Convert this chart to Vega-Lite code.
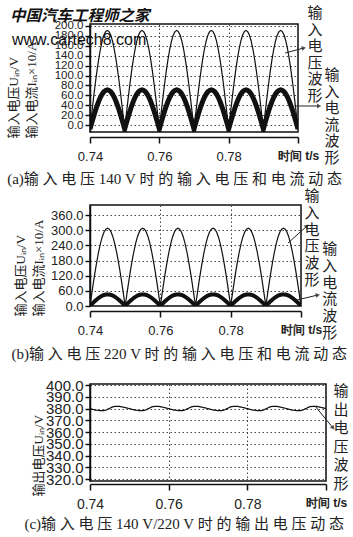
{
  "$schema": "https://vega.github.io/schema/vega-lite/v6.json",
  "background": "white",
  "padding": {"left": 6, "top": 5, "right": 0, "bottom": 0},
  "columns": 1,
  "align": "none",
  "spacing": 14,
  "data": {"values": [
    {"t":0.74,"va":-8,"ia":-8,"vb":0,"ib":0,"vc":380.1},
    {"t":0.7405,"va":23.1,"ia":4.4,"vb":48.2,"ib":7.2,"vc":379.6},
    {"t":0.741,"va":53.5,"ia":16.4,"vb":95.2,"ib":14.2,"vc":379.2},
    {"t":0.7415,"va":82.3,"ia":27.9,"vb":139.8,"ib":20.9,"vc":378.8},
    {"t":0.742,"va":109,"ia":38.4,"vb":181,"ib":27,"vc":378.6},
    {"t":0.7425,"va":132.7,"ia":47.9,"vb":217.8,"ib":32.5,"vc":378.4},
    {"t":0.743,"va":153,"ia":55.9,"vb":249.2,"ib":37.2,"vc":378.3},
    {"t":0.7435,"va":169.3,"ia":62.4,"vb":274.4,"ib":41,"vc":378.4},
    {"t":0.744,"va":181.3,"ia":67.1,"vb":292.9,"ib":43.8,"vc":378.8},
    {"t":0.7445,"va":188.6,"ia":70,"vb":304.2,"ib":45.4,"vc":379.5},
    {"t":0.745,"va":191,"ia":71,"vb":308,"ib":46,"vc":380.3},
    {"t":0.7455,"va":188.6,"ia":70,"vb":304.2,"ib":45.4,"vc":381.1},
    {"t":0.746,"va":181.3,"ia":67.1,"vb":292.9,"ib":43.8,"vc":381.7},
    {"t":0.7465,"va":169.3,"ia":62.4,"vb":274.4,"ib":41,"vc":382},
    {"t":0.747,"va":153,"ia":55.9,"vb":249.2,"ib":37.2,"vc":382},
    {"t":0.7475,"va":132.7,"ia":47.9,"vb":217.8,"ib":32.5,"vc":381.9},
    {"t":0.748,"va":109,"ia":38.4,"vb":181,"ib":27,"vc":381.6},
    {"t":0.7485,"va":82.3,"ia":27.9,"vb":139.8,"ib":20.9,"vc":381.3},
    {"t":0.749,"va":53.5,"ia":16.4,"vb":95.2,"ib":14.2,"vc":380.9},
    {"t":0.7495,"va":23.1,"ia":4.4,"vb":48.2,"ib":7.2,"vc":380.5},
    {"t":0.75,"va":-8,"ia":-8,"vb":0,"ib":0,"vc":380.1},
    {"t":0.7505,"va":23.1,"ia":4.4,"vb":48.2,"ib":7.2,"vc":379.6},
    {"t":0.751,"va":53.5,"ia":16.4,"vb":95.2,"ib":14.2,"vc":379.2},
    {"t":0.7515,"va":82.3,"ia":27.9,"vb":139.8,"ib":20.9,"vc":378.8},
    {"t":0.752,"va":109,"ia":38.4,"vb":181,"ib":27,"vc":378.6},
    {"t":0.7525,"va":132.7,"ia":47.9,"vb":217.8,"ib":32.5,"vc":378.4},
    {"t":0.753,"va":153,"ia":55.9,"vb":249.2,"ib":37.2,"vc":378.3},
    {"t":0.7535,"va":169.3,"ia":62.4,"vb":274.4,"ib":41,"vc":378.4},
    {"t":0.754,"va":181.3,"ia":67.1,"vb":292.9,"ib":43.8,"vc":378.8},
    {"t":0.7545,"va":188.6,"ia":70,"vb":304.2,"ib":45.4,"vc":379.5},
    {"t":0.755,"va":191,"ia":71,"vb":308,"ib":46,"vc":380.3},
    {"t":0.7555,"va":188.6,"ia":70,"vb":304.2,"ib":45.4,"vc":381.1},
    {"t":0.756,"va":181.3,"ia":67.1,"vb":292.9,"ib":43.8,"vc":381.7},
    {"t":0.7565,"va":169.3,"ia":62.4,"vb":274.4,"ib":41,"vc":382},
    {"t":0.757,"va":153,"ia":55.9,"vb":249.2,"ib":37.2,"vc":382},
    {"t":0.7575,"va":132.7,"ia":47.9,"vb":217.8,"ib":32.5,"vc":381.9},
    {"t":0.758,"va":109,"ia":38.4,"vb":181,"ib":27,"vc":381.6},
    {"t":0.7585,"va":82.3,"ia":27.9,"vb":139.8,"ib":20.9,"vc":381.3},
    {"t":0.759,"va":53.5,"ia":16.4,"vb":95.2,"ib":14.2,"vc":380.9},
    {"t":0.7595,"va":23.1,"ia":4.4,"vb":48.2,"ib":7.2,"vc":380.5},
    {"t":0.76,"va":-8,"ia":-8,"vb":0,"ib":0,"vc":380.1},
    {"t":0.7605,"va":23.1,"ia":4.4,"vb":48.2,"ib":7.2,"vc":379.6},
    {"t":0.761,"va":53.5,"ia":16.4,"vb":95.2,"ib":14.2,"vc":379.2},
    {"t":0.7615,"va":82.3,"ia":27.9,"vb":139.8,"ib":20.9,"vc":378.8},
    {"t":0.762,"va":109,"ia":38.4,"vb":181,"ib":27,"vc":378.6},
    {"t":0.7625,"va":132.7,"ia":47.9,"vb":217.8,"ib":32.5,"vc":378.4},
    {"t":0.763,"va":153,"ia":55.9,"vb":249.2,"ib":37.2,"vc":378.3},
    {"t":0.7635,"va":169.3,"ia":62.4,"vb":274.4,"ib":41,"vc":378.4},
    {"t":0.764,"va":181.3,"ia":67.1,"vb":292.9,"ib":43.8,"vc":378.8},
    {"t":0.7645,"va":188.6,"ia":70,"vb":304.2,"ib":45.4,"vc":379.5},
    {"t":0.765,"va":191,"ia":71,"vb":308,"ib":46,"vc":380.3},
    {"t":0.7655,"va":188.6,"ia":70,"vb":304.2,"ib":45.4,"vc":381.1},
    {"t":0.766,"va":181.3,"ia":67.1,"vb":292.9,"ib":43.8,"vc":381.7},
    {"t":0.7665,"va":169.3,"ia":62.4,"vb":274.4,"ib":41,"vc":382},
    {"t":0.767,"va":153,"ia":55.9,"vb":249.2,"ib":37.2,"vc":382},
    {"t":0.7675,"va":132.7,"ia":47.9,"vb":217.8,"ib":32.5,"vc":381.9},
    {"t":0.768,"va":109,"ia":38.4,"vb":181,"ib":27,"vc":381.6},
    {"t":0.7685,"va":82.3,"ia":27.9,"vb":139.8,"ib":20.9,"vc":381.3},
    {"t":0.769,"va":53.5,"ia":16.4,"vb":95.2,"ib":14.2,"vc":380.9},
    {"t":0.7695,"va":23.1,"ia":4.4,"vb":48.2,"ib":7.2,"vc":380.5},
    {"t":0.77,"va":-8,"ia":-8,"vb":0,"ib":0,"vc":380.1},
    {"t":0.7705,"va":23.1,"ia":4.4,"vb":48.2,"ib":7.2,"vc":379.6},
    {"t":0.771,"va":53.5,"ia":16.4,"vb":95.2,"ib":14.2,"vc":379.2},
    {"t":0.7715,"va":82.3,"ia":27.9,"vb":139.8,"ib":20.9,"vc":378.8},
    {"t":0.772,"va":109,"ia":38.4,"vb":181,"ib":27,"vc":378.6},
    {"t":0.7725,"va":132.7,"ia":47.9,"vb":217.8,"ib":32.5,"vc":378.4},
    {"t":0.773,"va":153,"ia":55.9,"vb":249.2,"ib":37.2,"vc":378.3},
    {"t":0.7735,"va":169.3,"ia":62.4,"vb":274.4,"ib":41,"vc":378.4},
    {"t":0.774,"va":181.3,"ia":67.1,"vb":292.9,"ib":43.8,"vc":378.8},
    {"t":0.7745,"va":188.6,"ia":70,"vb":304.2,"ib":45.4,"vc":379.5},
    {"t":0.775,"va":191,"ia":71,"vb":308,"ib":46,"vc":380.3},
    {"t":0.7755,"va":188.6,"ia":70,"vb":304.2,"ib":45.4,"vc":381.1},
    {"t":0.776,"va":181.3,"ia":67.1,"vb":292.9,"ib":43.8,"vc":381.7},
    {"t":0.7765,"va":169.3,"ia":62.4,"vb":274.4,"ib":41,"vc":382},
    {"t":0.777,"va":153,"ia":55.9,"vb":249.2,"ib":37.2,"vc":382},
    {"t":0.7775,"va":132.7,"ia":47.9,"vb":217.8,"ib":32.5,"vc":381.9},
    {"t":0.778,"va":109,"ia":38.4,"vb":181,"ib":27,"vc":381.6},
    {"t":0.7785,"va":82.3,"ia":27.9,"vb":139.8,"ib":20.9,"vc":381.3},
    {"t":0.779,"va":53.5,"ia":16.4,"vb":95.2,"ib":14.2,"vc":380.9},
    {"t":0.7795,"va":23.1,"ia":4.4,"vb":48.2,"ib":7.2,"vc":380.5},
    {"t":0.78,"va":-8,"ia":-8,"vb":0,"ib":0,"vc":380.1},
    {"t":0.7805,"va":23.1,"ia":4.4,"vb":48.2,"ib":7.2,"vc":379.6},
    {"t":0.781,"va":53.5,"ia":16.4,"vb":95.2,"ib":14.2,"vc":379.2},
    {"t":0.7815,"va":82.3,"ia":27.9,"vb":139.8,"ib":20.9,"vc":378.8},
    {"t":0.782,"va":109,"ia":38.4,"vb":181,"ib":27,"vc":378.6},
    {"t":0.7825,"va":132.7,"ia":47.9,"vb":217.8,"ib":32.5,"vc":378.4},
    {"t":0.783,"va":153,"ia":55.9,"vb":249.2,"ib":37.2,"vc":378.3},
    {"t":0.7835,"va":169.3,"ia":62.4,"vb":274.4,"ib":41,"vc":378.4},
    {"t":0.784,"va":181.3,"ia":67.1,"vb":292.9,"ib":43.8,"vc":378.8},
    {"t":0.7845,"va":188.6,"ia":70,"vb":304.2,"ib":45.4,"vc":379.5},
    {"t":0.785,"va":191,"ia":71,"vb":308,"ib":46,"vc":380.3},
    {"t":0.7855,"va":188.6,"ia":70,"vb":304.2,"ib":45.4,"vc":381.1},
    {"t":0.786,"va":181.3,"ia":67.1,"vb":292.9,"ib":43.8,"vc":381.7},
    {"t":0.7865,"va":169.3,"ia":62.4,"vb":274.4,"ib":41,"vc":382},
    {"t":0.787,"va":153,"ia":55.9,"vb":249.2,"ib":37.2,"vc":382},
    {"t":0.7875,"va":132.7,"ia":47.9,"vb":217.8,"ib":32.5,"vc":381.9},
    {"t":0.788,"va":109,"ia":38.4,"vb":181,"ib":27,"vc":381.6},
    {"t":0.7885,"va":82.3,"ia":27.9,"vb":139.8,"ib":20.9,"vc":381.3},
    {"t":0.789,"va":53.5,"ia":16.4,"vb":95.2,"ib":14.2,"vc":380.9},
    {"t":0.7895,"va":23.1,"ia":4.4,"vb":48.2,"ib":7.2,"vc":380.5},
    {"t":0.79,"va":-8,"ia":-8,"vb":0,"ib":0,"vc":380.1},
    {"t":0.7905,"va":23.1,"ia":4.4,"vb":48.2,"ib":7.2,"vc":379.6},
    {"t":0.791,"va":53.5,"ia":16.4,"vb":95.2,"ib":14.2,"vc":379.2},
    {"t":0.7915,"va":82.3,"ia":27.9,"vb":139.8,"ib":20.9,"vc":378.8},
    {"t":0.792,"va":109,"ia":38.4,"vb":181,"ib":27,"vc":378.6},
    {"t":0.7925,"va":132.7,"ia":47.9,"vb":217.8,"ib":32.5,"vc":378.4},
    {"t":0.793,"va":153,"ia":55.9,"vb":249.2,"ib":37.2,"vc":378.3},
    {"t":0.7935,"va":169.3,"ia":62.4,"vb":274.4,"ib":41,"vc":378.4},
    {"t":0.794,"va":181.3,"ia":67.1,"vb":292.9,"ib":43.8,"vc":378.8},
    {"t":0.7945,"va":188.6,"ia":70,"vb":304.2,"ib":45.4,"vc":379.5},
    {"t":0.795,"va":191,"ia":71,"vb":308,"ib":46,"vc":380.3},
    {"t":0.7955,"va":188.6,"ia":70,"vb":304.2,"ib":45.4,"vc":381.1},
    {"t":0.796,"va":181.3,"ia":67.1,"vb":292.9,"ib":43.8,"vc":381.7},
    {"t":0.7965,"va":169.3,"ia":62.4,"vb":274.4,"ib":41,"vc":382},
    {"t":0.797,"va":153,"ia":55.9,"vb":249.2,"ib":37.2,"vc":382},
    {"t":0.7975,"va":132.7,"ia":47.9,"vb":217.8,"ib":32.5,"vc":381.9},
    {"t":0.798,"va":109,"ia":38.4,"vb":181,"ib":27,"vc":381.6},
    {"t":0.7985,"va":82.3,"ia":27.9,"vb":139.8,"ib":20.9,"vc":381.3},
    {"t":0.799,"va":53.5,"ia":16.4,"vb":95.2,"ib":14.2,"vc":380.9},
    {"t":0.7995,"va":23.1,"ia":4.4,"vb":48.2,"ib":7.2,"vc":380.5},
    {"t":0.8,"va":-8,"ia":-8,"vb":0,"ib":0,"vc":380.1}
  ]},
  "concat": [
    {
      "columns": 1,
      "align": "none",
      "spacing": 0,
      "concat": [
        {
          "width": 208, "height": 108,
          "title": {"text": "(a)输 入 电 压 140 V 时 的 输 入 电 压 和 电 流 动 态"},
          "layer": [
            {"mark": {"type": "line", "color": "#111", "strokeWidth": 5, "clip": true},
             "encoding": {
               "x": {"field": "t", "type": "quantitative", "scale": {"domain": [0.74, 0.8], "nice": false, "zero": false},
                     "axis": {"values": [0.74, 0.76, 0.78, 0.8], "tickCount": 12, "title": null, "offset": 5, "grid": true, "labelFlush": false, "labelOverlap": false,
                              "labelExpr": "datum.value > 0.799 ? '时间 t/s   ' : format(datum.value, '.2f')",
                              "labelFontWeight": {"condition": {"test": "datum.value > 0.799", "value": "bold"}, "value": "normal"},
                              "labelFontSize": {"condition": {"test": "datum.value > 0.799", "value": 12}, "value": 13}}},
               "y": {"field": "ia", "type": "quantitative", "scale": {"domain": [-14, 204], "nice": false, "zero": false},
                     "axis": {"values": [0, 20, 40, 60, 80, 100, 120, 140, 160, 180, 200], "tickCount": 20, "format": ".1f", "labelFontSize": 11.5, "grid": true, "labelOverlap": false,
                              "title": ["输入电压Uᵢₙ/V", "输入电流Iᵢₙ×10/A"], "titleAnchor": "start", "titleY": 114, "titlePadding": 16}}}},
            {"mark": {"type": "line", "color": "#111", "strokeWidth": 1.2, "clip": true},
             "encoding": {"x": {"field": "t", "type": "quantitative"}, "y": {"field": "va", "type": "quantitative"}}},
            {"data": {"values": [
               {"t": 0.8049, "v": 226.2, "label": "输\n入\n电\n压\n波\n形"},
               {"t": 0.8098, "v": 101.1, "label": "输\n入\n电\n流\n波\n形"}]},
             "mark": {"type": "text", "lineBreak": "\n", "lineHeight": 16.6, "align": "center", "baseline": "middle", "clip": false},
             "encoding": {"x": {"field": "t", "type": "quantitative"}, "y": {"field": "v", "type": "quantitative"}, "text": {"field": "label"}}},
            {"data": {"values": [
               {"t": 0.7963, "v": 145.5, "t2": 0.8017, "v2": 155.6},
               {"t": 0.7991, "v": 38.5, "t2": 0.8061, "v2": 38.5}]},
             "mark": {"type": "rule", "color": "#222", "strokeWidth": 1, "clip": false},
             "encoding": {"x": {"field": "t", "type": "quantitative"}, "y": {"field": "v", "type": "quantitative"}, "x2": {"field": "t2"}, "y2": {"field": "v2"}}},
            {"data": {"values": [{"t": 0.8017, "v": 155.6}]},
             "mark": {"type": "point", "shape": "triangle-right", "filled": true, "color": "#222", "size": 26, "angle": 345, "clip": false},
             "encoding": {"x": {"field": "t", "type": "quantitative"}, "y": {"field": "v", "type": "quantitative"}}},
            {"data": {"values": [{"t": 0.8061, "v": 38.5}]},
             "mark": {"type": "point", "shape": "triangle-right", "filled": true, "color": "#222", "size": 26, "angle": 0, "clip": false},
             "encoding": {"x": {"field": "t", "type": "quantitative"}, "y": {"field": "v", "type": "quantitative"}}},
            {"data": {"values": [{"t": 0.7169, "v": 220, "label": "中国汽车工程师之家"}]},
             "mark": {"type": "text", "align": "left", "baseline": "middle", "fontSize": 15.5, "fontWeight": "bold", "fontStyle": "italic", "color": "#111", "clip": false},
             "encoding": {"x": {"field": "t", "type": "quantitative"}, "y": {"field": "v", "type": "quantitative"}, "text": {"field": "label"}}},
            {"data": {"values": [{"t": 0.7175, "v": 172, "label": "www.cartech8.com"}]},
             "mark": {"type": "text", "align": "left", "baseline": "middle", "font": "Liberation Sans", "fontSize": 16, "color": "#111", "clip": false},
             "encoding": {"x": {"field": "t", "type": "quantitative"}, "y": {"field": "v", "type": "quantitative"}, "text": {"field": "label"}}}
          ]
        },
        {
          "width": 211, "height": 101,
          "title": {"text": "(b)输 入 电 压 220 V 时 的 输 入 电 压 和 电 流 动 态", "dx": -3},
          "layer": [
            {"mark": {"type": "line", "color": "#111", "strokeWidth": 4, "clip": true},
             "encoding": {
               "x": {"field": "t", "type": "quantitative", "scale": {"domain": [0.74, 0.8], "nice": false, "zero": false},
                     "axis": {"values": [0.74, 0.76, 0.78, 0.8], "tickCount": 12, "title": null, "offset": 5, "grid": true, "labelFlush": false, "labelOverlap": false,
                              "labelExpr": "datum.value > 0.799 ? '时间 t/s   ' : format(datum.value, '.2f')",
                              "labelFontWeight": {"condition": {"test": "datum.value > 0.799", "value": "bold"}, "value": "normal"},
                              "labelFontSize": {"condition": {"test": "datum.value > 0.799", "value": 12}, "value": 13}}},
               "y": {"field": "ib", "type": "quantitative", "scale": {"domain": [0, 400], "nice": false, "zero": false},
                     "axis": {"values": [0, 60, 120, 180, 240, 300, 360], "tickCount": 20, "format": ".1f", "labelFontSize": 13, "grid": true, "labelOverlap": false,
                              "title": ["输入电压Uᵢₙ/V", "输入电流Iᵢₙ×10/A"], "titleAnchor": "start", "titleY": 111, "titlePadding": 5}}}},
            {"mark": {"type": "line", "color": "#111", "strokeWidth": 1.2, "clip": true},
             "encoding": {"x": {"field": "t", "type": "quantitative"}, "y": {"field": "vb", "type": "quantitative"}}},
            {"data": {"values": [
               {"t": 0.8031, "v": 435.6, "label": "输\n入\n电\n压\n波\n形"},
               {"t": 0.8082, "v": 225.8, "label": "输\n入\n电\n流\n波\n形"}]},
             "mark": {"type": "text", "lineBreak": "\n", "lineHeight": 16.8, "align": "center", "baseline": "middle", "clip": false},
             "encoding": {"x": {"field": "t", "type": "quantitative"}, "y": {"field": "v", "type": "quantitative"}, "text": {"field": "label"}}},
            {"data": {"values": [
               {"t": 0.7963, "v": 249.5, "t2": 0.8017, "v2": 316.8},
               {"t": 0.7989, "v": 23.8, "t2": 0.8048, "v2": 43.6}]},
             "mark": {"type": "rule", "color": "#222", "strokeWidth": 1, "clip": false},
             "encoding": {"x": {"field": "t", "type": "quantitative"}, "y": {"field": "v", "type": "quantitative"}, "x2": {"field": "t2"}, "y2": {"field": "v2"}}},
            {"data": {"values": [{"t": 0.8017, "v": 316.8}]},
             "mark": {"type": "point", "shape": "triangle-right", "filled": true, "color": "#222", "size": 26, "angle": 318, "clip": false},
             "encoding": {"x": {"field": "t", "type": "quantitative"}, "y": {"field": "v", "type": "quantitative"}}},
            {"data": {"values": [{"t": 0.8048, "v": 43.6}]},
             "mark": {"type": "point", "shape": "triangle-right", "filled": true, "color": "#222", "size": 26, "angle": 347, "clip": false},
             "encoding": {"x": {"field": "t", "type": "quantitative"}, "y": {"field": "v", "type": "quantitative"}}}
          ]
        }
      ]
    },
    {
      "width": 236, "height": 97,
      "title": {"text": "(c)输 入 电 压 140 V/220 V 时 的 输 出 电 压 动 态", "dx": -8},
      "layer": [
        {"mark": {"type": "line", "color": "#111", "strokeWidth": 1.2, "clip": true, "interpolate": "monotone"},
         "encoding": {
           "x": {"field": "t", "type": "quantitative", "scale": {"domain": [0.74, 0.8], "nice": false, "zero": false},
                 "axis": {"values": [0.74, 0.76, 0.78, 0.8], "tickCount": 12, "title": null, "offset": 3, "grid": true, "labelFlush": false, "labelOverlap": false,
                          "labelExpr": "datum.value > 0.799 ? '时间 t/s   ' : format(datum.value, '.2f')",
                          "labelFontWeight": {"condition": {"test": "datum.value > 0.799", "value": "bold"}, "value": "normal"},
                          "labelFontSize": {"condition": {"test": "datum.value > 0.799", "value": 12}, "value": 14}}},
           "y": {"field": "vc", "type": "quantitative", "scale": {"domain": [318.5, 401], "nice": false, "zero": false},
                 "axis": {"values": [320, 330, 340, 350, 360, 370, 380, 390, 400], "tickCount": 20, "format": ".1f", "labelFontSize": 15, "grid": true, "labelOverlap": false,
                          "title": "输出电压Uᵢₙ/V", "titleAnchor": "start", "titleY": 112, "titlePadding": 0}}}},
        {"data": {"values": [
           {"t": 0.8038, "v": 395, "label": "输\n出\n电\n压\n波\n形"}]},
         "mark": {"type": "text", "lineBreak": "\n", "lineHeight": 18.6, "align": "center", "baseline": "middle", "clip": false},
         "encoding": {"x": {"field": "t", "type": "quantitative"}, "y": {"field": "v", "type": "quantitative"}, "text": {"field": "label"}}},
        {"data": {"values": [
           {"t": 0.7972, "v": 382.3, "t2": 0.8018, "v2": 363.6}]},
         "mark": {"type": "rule", "color": "#222", "strokeWidth": 1, "clip": false},
         "encoding": {"x": {"field": "t", "type": "quantitative"}, "y": {"field": "v", "type": "quantitative"}, "x2": {"field": "t2"}, "y2": {"field": "v2"}}},
        {"data": {"values": [{"t": 0.8018, "v": 363.6}]},
         "mark": {"type": "point", "shape": "triangle-right", "filled": true, "color": "#222", "size": 26, "angle": 51, "clip": false},
         "encoding": {"x": {"field": "t", "type": "quantitative"}, "y": {"field": "v", "type": "quantitative"}}}
      ]
    }
  ],
  "config": {
    "view": {"stroke": "#111", "strokeWidth": 1.5},
    "axis": {"domainColor": "#111", "domainWidth": 1.5, "tickColor": "#111", "tickWidth": 1.5, "labelColor": "#222",
             "labelFont": "Liberation Sans", "gridColor": "#444", "gridDash": [1.5, 2.5], "gridWidth": 1,
             "titleFont": "Liberation Serif, Noto Sans CJK SC", "titleFontSize": 13, "titleFontWeight": "normal",
             "titleColor": "#222", "titleLineHeight": 18, "labelOverlap": false},
    "axisY": {"tickSize": 5, "labelPadding": 2},
    "axisX": {"tickSize": 6, "labelPadding": 7},
    "title": {"orient": "bottom", "anchor": "start", "frame": "bounds", "font": "Liberation Serif, Noto Sans CJK SC",
              "fontSize": 15, "fontWeight": "normal", "color": "#222", "offset": 6},
    "text": {"font": "Noto Sans CJK SC", "fontSize": 15, "color": "#222"}
  }
}
